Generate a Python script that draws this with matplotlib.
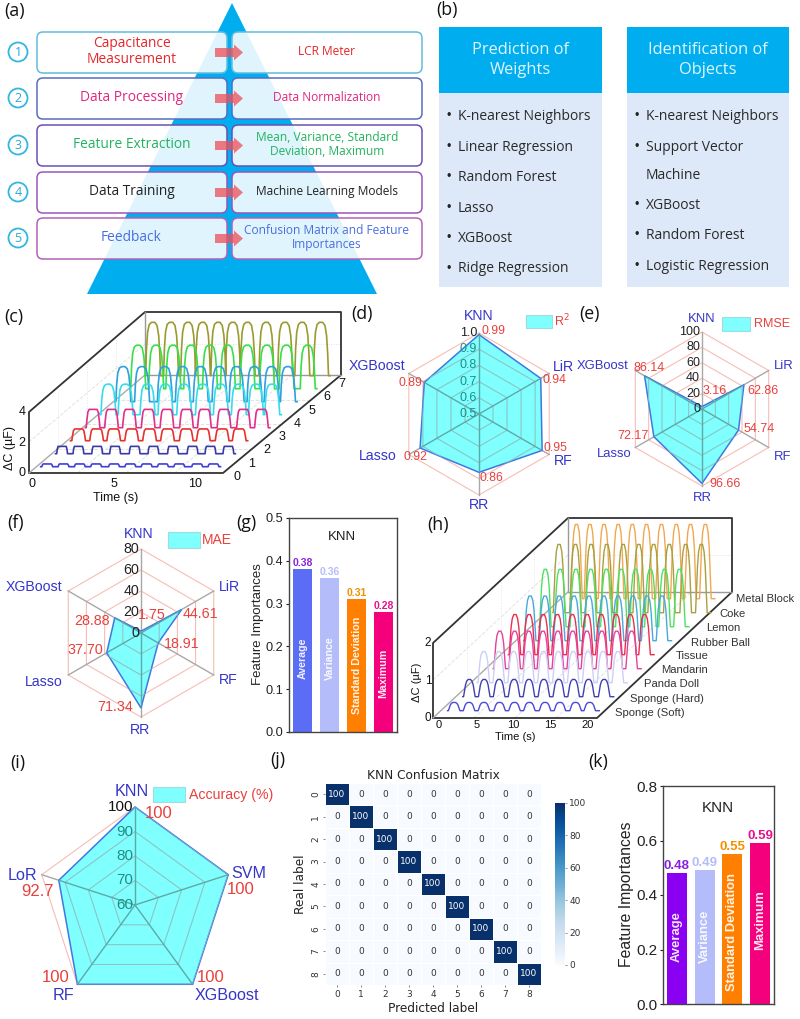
#!/usr/bin/env python3
"""Multi-panel figure: workflow schematic, waterfalls, radar charts, bars, confusion matrix."""

import matplotlib
matplotlib.use("Agg")
import matplotlib.pyplot as plt
import numpy as np
from matplotlib.patches import FancyArrow, FancyBboxPatch, Polygon, Circle, Rectangle

plt.rcParams["font.family"] = ["Liberation Sans", "DejaVu Sans"]

W, H = 800, 1019

# (a) workflow
STEP_LEFT = ["Capacitance\nMeasurement", "Data Processing", "Feature Extraction", "Data Training", "Feedback"]
STEP_RIGHT = ["LCR Meter", "Data Normalization", "Mean, Variance, Standard\nDeviation, Maximum",
              "Machine Learning Models", "Confusion Matrix and Feature\nImportances"]
STEP_TEXT_COLORS = ["#e5262b", "#e0267f", "#22b35e", "#222222", "#4a6ee0"]
STEP_EDGE_COLORS = ["#62bcdc", "#5a6cc0", "#6a4fb4", "#9a55b8", "#b462b4"]

# (b) model lists
WEIGHT_MODELS = ["K-nearest Neighbors", "Linear Regression", "Random Forest", "Lasso", "XGBoost", "Ridge Regression"]
OBJECT_MODELS = ["K-nearest Neighbors", "Support Vector", "Machine", "XGBoost", "Random Forest", "Logistic Regression"]

# (c) waterfall: press centres (s), peak height (uF), colour per depth
C_PEAKS = [
    [0.4, 1.4, 2.4, 3.4, 4.5, 5.5, 6.5, 7.5, 8.5, 9.6, 10.6],
    [0.4, 1.4, 2.55, 3.65, 4.85, 6.0, 7.2, 8.4, 9.5, 10.6],
    [0.5, 1.6, 2.65, 3.75, 4.85, 5.95, 7.1, 8.15, 9.3, 10.35],
    [0.47, 1.6, 2.7, 3.85, 5.0, 6.2, 7.3, 8.5, 9.7, 10.8],
    [0.5, 1.55, 2.9, 4.0, 5.15, 6.3, 7.4, 8.5, 9.55, 10.55],
    [0.5, 1.65, 3.05, 4.15, 5.25, 6.4, 7.45, 8.55, 9.6, 10.6],
    [0.5, 1.6, 2.65, 3.75, 4.9, 6.0, 7.2, 8.4, 9.6, 10.9],
    [0.5, 1.6, 2.65, 3.55, 4.5, 5.4, 6.3, 7.45, 8.6, 9.65, 10.8],
]
C_HEIGHTS = [0.18, 0.48, 0.77, 1.2, 2.0, 2.3, 2.85, 3.5]
C_COLORS = ["#3f3fd8", "#3a3aa8", "#e8302c", "#e0308c", "#35dcec", "#2f9fe0", "#38e048", "#9a9a30"]
C_DEPTH_TICKS = [0, 1, 2, 3, 4, 5, 6, 7]
C_TIME_TICKS = [0, 5, 10]
C_DC_TICKS = [0, 2, 4]

# (h) waterfall
H_PEAKS = [
    [1.0, 3.0, 5.0, 7.1, 9.1, 11.1, 13.2, 15.2, 17.3, 19.2],
    [1.0, 3.0, 5.0, 7.0, 9.0, 11.0, 13.0, 15.0, 17.0, 19.1],
    [0.9, 2.9, 4.9, 6.9, 8.9, 10.9, 12.9, 14.9, 16.9, 18.9],
    [1.0, 3.0, 4.9, 6.8, 8.8, 10.8, 12.7, 14.7, 16.7, 18.7],
    [1.0, 2.9, 4.8, 6.7, 8.7, 10.7, 12.6, 14.6, 16.5, 18.4],
    [1.0, 3.0, 4.9, 6.9, 8.9, 10.9, 12.8, 14.8, 16.7, 18.7],
    [1.0, 3.0, 5.1, 7.1, 9.2, 11.2, 13.1, 15.1, 17.0, 19.0],
    [0.8, 3.0, 5.1, 7.2, 9.4, 11.5, 13.5, 15.6, 17.8, 19.9],
    [1.1, 2.9, 4.8, 6.7, 8.6, 10.5, 12.5, 14.5, 16.4, 18.4],
]
H_HEIGHTS = [0.22, 0.46, 0.83, 1.0, 1.07, 1.19, 1.53, 1.82, 1.98]
H_COLORS = ["#4a4ad8", "#4040b0", "#ccd0f4", "#e8409c", "#e8304c", "#48a8e0", "#50e060", "#a8a040", "#f0a850"]
H_OBJECTS = ["Sponge (Soft)", "Sponge (Hard)", "Panda Doll", "Mandarin", "Tissue",
             "Rubber Ball", "Lemon", "Coke", "Metal Block"]
H_TIME_TICKS = [0, 5, 10, 15, 20]
H_DC_TICKS = [0, 1, 2]

# (d)(e)(f) regression radars
REG_MODELS = ["KNN", "LiR", "RF", "RR", "Lasso", "XGBoost"]
R2_VALUES = [0.99, 0.94, 0.95, 0.86, 0.92, 0.89]
RMSE_VALUES = [3.16, 62.86, 54.74, 96.66, 72.17, 86.14]
MAE_VALUES = [1.75, 44.61, 18.91, 71.34, 37.70, 28.88]
R2_TICKS = [0.5, 0.6, 0.7, 0.8, 0.9, 1.0]
RMSE_TICKS = [0, 20, 40, 60, 80, 100]
MAE_TICKS = [0, 20, 40, 60, 80]

# (i) classification radar
CLF_MODELS = ["KNN", "SVM", "XGBoost", "RF", "LoR"]
ACC_VALUES = [100, 100, 100, 100, 92.7]
ACC_TICKS = [60, 70, 80, 90, 100]

# (g)(k) feature importances
FEATURES = ["Average", "Variance", "Standard Deviation", "Maximum"]
G_IMPORTANCE = [0.38, 0.36, 0.31, 0.28]
K_IMPORTANCE = [0.48, 0.49, 0.55, 0.59]
G_COLORS = ["#5b6cf5", "#b4bdfa", "#ff8000", "#f5007c"]
K_COLORS = ["#8a00f0", "#b4bdfa", "#ff8000", "#f5007c"]
LABEL_COLORS = ["#8a20e0", "#b4bdfa", "#f59000", "#e8108c"]

# (j) confusion matrix
CLASS_IDS = [0, 1, 2, 3, 4, 5, 6, 7, 8]
CONFUSION = [
    [100, 0, 0, 0, 0, 0, 0, 0, 0],
    [0, 100, 0, 0, 0, 0, 0, 0, 0],
    [0, 0, 100, 0, 0, 0, 0, 0, 0],
    [0, 0, 0, 100, 0, 0, 0, 0, 0],
    [0, 0, 0, 0, 100, 0, 0, 0, 0],
    [0, 0, 0, 0, 0, 100, 0, 0, 0],
    [0, 0, 0, 0, 0, 0, 100, 0, 0],
    [0, 0, 0, 0, 0, 0, 0, 100, 0],
    [0, 0, 0, 0, 0, 0, 0, 0, 100],
]

# one press, as offsets from its centre
PULSE_SQUARE_T = [-0.33, -0.3, -0.25, 0.25, 0.3, 0.33]
PULSE_SQUARE_Y = [0, 0.6, 1, 1, 0.6, 0]
PULSE_FLAT_T = [-0.42, -0.38, -0.32, -0.24, 0.24, 0.32, 0.38, 0.42]
PULSE_FLAT_Y = [0, 0.4, 0.85, 1, 1, 0.85, 0.4, 0]
PULSE_ROUND_T = [-0.46, -0.41, -0.34, -0.24, -0.1, 0.1, 0.24, 0.34, 0.41, 0.46]
PULSE_ROUND_Y = [0, 0.5, 0.82, 0.96, 1, 1, 0.94, 0.75, 0.4, 0]
PULSE_H_T = [-0.78, -0.66, -0.52, -0.36, -0.16, 0.16, 0.36, 0.52, 0.66, 0.78]
PULSE_H_Y = [0, 0.3, 0.68, 0.9, 1, 1, 0.9, 0.68, 0.3, 0]

BLUE = "#3535c8"
RED = "#e8403c"
TEAL = "#1f8f86"
CYAN = "#80ffff"
SANS2 = ["Open Sans", "DejaVu Sans"]

fig = plt.figure(figsize=(W / 100, H / 100), dpi=100, facecolor="white")
ov = fig.add_axes([0, 0, 1, 1], zorder=1)
ov.set_xlim(0, W)
ov.set_ylim(H, 0)
ov.axis("off")


def add_axes_px(x0, y0, x1, y1, **kw):
    return fig.add_axes([x0 / W, 1 - y1 / H, (x1 - x0) / W, (y1 - y0) / H], **kw)


def label(x, y, s, size=10, color="#111111", ha="center", va="center", **kw):
    ov.text(x, y, s, fontsize=size, color=color, ha=ha, va=va, zorder=30, **kw)


# ---------- panel letters
for s, x, y in [("(a)", 15, 11), ("(b)", 447, 10), ("(c)", 14, 317), ("(d)", 362, 314), ("(e)", 589, 314),
                ("(f)", 16, 523), ("(g)", 246, 523), ("(h)", 438, 525), ("(i)", 18, 763), ("(j)", 278, 760),
                ("(k)", 598, 762)]:
    label(x, y, s, size=12.8, family=SANS2)

# ---------- (a)
ov.add_patch(Polygon([(232, 3), (87, 294), (377, 294)], facecolor="#00aeef", edgecolor="none", zorder=1))
row_tops = [32, 78, 125, 172, 218]
for i, top in enumerate(row_tops):
    cy = top + 20.5
    for x0, x1, txt, fs in [(37, 227, STEP_LEFT[i], 9.9), (232, 422, STEP_RIGHT[i], 8.6)]:
        ov.add_patch(FancyBboxPatch((x0 + 3, top + 3), x1 - x0 - 6, 35, boxstyle="round,pad=3,rounding_size=6",
                                    facecolor="#ffffff", alpha=0.88, edgecolor="none", zorder=2))
        ov.add_patch(FancyBboxPatch((x0 + 3, top + 3), x1 - x0 - 6, 35, boxstyle="round,pad=3,rounding_size=6",
                                    facecolor="none", edgecolor=STEP_EDGE_COLORS[i], linewidth=1.1, zorder=3))
        label((x0 + x1) / 2 + (0 if x0 > 100 else -0.5), cy - 1, txt, size=fs, color=STEP_TEXT_COLORS[i],
              family=SANS2, linespacing=1.05)
    ov.add_patch(FancyArrow(215, cy, 28, 0, width=9, head_width=16, head_length=9, length_includes_head=True,
                            facecolor="#ee4f58", alpha=0.75, edgecolor="none", zorder=4))
    ov.add_patch(Circle((18, cy - 0.5), 9.5, facecolor="white", edgecolor="#33b6e0", linewidth=1.3, zorder=3))
    label(18, cy - 0.5, str(i + 1), size=9, color="#2aa8d8", family=SANS2)

# ---------- (b)
for x0, x1, title, items, ys, bullets in [
    (439, 602, ["Prediction of", "Weights"], WEIGHT_MODELS, [116, 147, 177, 208, 238, 269], [0, 1, 2, 3, 4, 5]),
    (627, 789, ["Identification of", "Objects"], OBJECT_MODELS, [116, 147, 175, 205, 235, 266], [0, 1, 3, 4, 5]),
]:
    ov.add_patch(Rectangle((x0, 93), x1 - x0, 194, facecolor="#dde9f8", edgecolor="none", zorder=1))
    ov.add_patch(Rectangle((x0, 27), x1 - x0, 66, facecolor="#00aeef", edgecolor="none", zorder=2))
    label((x0 + x1) / 2, 50, title[0], size=11.8, color="#dff6ff", family=SANS2)
    label((x0 + x1) / 2, 70, title[1], size=11.8, color="#dff6ff", family=SANS2)
    for j, (it, y) in enumerate(zip(items, ys)):
        if j in bullets:
            label(x0 + 10, y, "•", size=9, color="#222222")
        label(x0 + 19, y, it, size=10, ha="left", color="#2a2a2a", family=SANS2)


# ---------- waterfalls
def oblique(t, depth, dc, x0, y0, sx, dx, dy, sz):
    return (x0 + np.asarray(t) * sx + np.asarray(depth) * dx,
            y0 - np.asarray(depth) * dy - np.asarray(dc) * sz)


def press_trace(peaks, height, pulse_t, pulse_y, tail=0.0):
    ts, ys = [max(0.0, peaks[0] + pulse_t[0] - 0.1)], [0.0]
    for p in peaks:
        ts.extend(p + np.asarray(pulse_t))
        ys.extend(height * np.asarray(pulse_y))
    if tail:
        ts.append(ts[-1] + tail)
        ys.append(0.0)
    return np.array(ts), np.array(ys)


EDGE = "#333333"
# (c) frame
for xs, ys, c, lw in [([29, 29, 145, 341, 341], [473, 412, 312, 312, 375], EDGE, 1.3),
                      ([29, 223, 341], [473, 473, 375], EDGE, 1.3),
                      ([145, 145], [312, 375], "#999999", 1.0),
                      ([145, 341], [375, 375], "#999999", 1.0),
                      ([29, 145], [473, 375], "#aaaaaa", 1.0)]:
    ov.plot(xs, ys, color=c, lw=lw, zorder=3, solid_capstyle="projecting")
for f in [0.25, 0.5, 0.75]:
    ov.plot([29 + 194 * f, 145 + 196 * f], [473, 375], color="#e2e2e2", lw=0.7, ls="--", zorder=2)
    ov.plot([29 + 116 * f, 223 + 118 * f], [473 - 98 * f, 473 - 98 * f], color="#e2e2e2", lw=0.7, ls="--", zorder=2)
    ov.plot([29 + 116 * f, 29 + 116 * f], [473 - 98 * f, 412 - 100 * f], color="#e6e6e6", lw=0.7, ls=":", zorder=2)
ov.plot([29, 145], [442, 344], color="#e2e2e2", lw=0.7, ls="--", zorder=2)
ov.plot([145, 341], [344, 344], color="#e2e2e2", lw=0.7, ls=":", zorder=2)
for d in reversed(C_DEPTH_TICKS):
    pulse = (PULSE_SQUARE_T, PULSE_SQUARE_Y) if d < 2 else (PULSE_FLAT_T, PULSE_FLAT_Y) if d < 4 else (PULSE_ROUND_T, PULSE_ROUND_Y)
    t, y = press_trace(C_PEAKS[d], C_HEIGHTS[d], pulse[0], pulse[1], tail=0.1)
    px, py = oblique(t, d, y, 40.7, 466.7, 16.3, 14.9, 13.0, 15.25)
    ov.plot(px, py, color=C_COLORS[d], lw=1.2, zorder=10 + (7 - d) * 0.1, solid_joinstyle="round")
for v in C_DC_TICKS:
    label(22, 473 - v * 15.25, str(v), size=9)
for v in C_TIME_TICKS:
    label(32 + v * 16.3, 484, str(v), size=9)
for v in C_DEPTH_TICKS:
    label(237 + v * 15, 477 - v * 13.3, str(v), size=9)
label(116, 498, "Time (s)", size=9)
label(10, 448, "ΔC (µF)", size=9, rotation=90)

# (h) frame
for xs, ys, c, lw in [([433, 433, 568, 732, 732, 597, 433], [718, 643, 518, 518, 592, 718, 718], EDGE, 1.3),
                      ([568, 568], [518, 592], "#999999", 1.0),
                      ([568, 732], [592, 592], "#999999", 1.0),
                      ([433, 568], [718, 592], "#aaaaaa", 1.0)]:
    ov.plot(xs, ys, color=c, lw=lw, zorder=3)
for f in [0.25, 0.5, 0.75]:
    ov.plot([433 + 164 * f, 568 + 164 * f], [718, 592], color="#e2e2e2", lw=0.7, ls="--", zorder=2)
    ov.plot([433 + 135 * f, 433 + 135 * f], [718 - 126 * f, 643 - 125 * f], color="#e6e6e6", lw=0.7, ls=":", zorder=2)
ov.plot([568, 732], [555, 555], color="#e2e2e2", lw=0.7, ls=":", zorder=2)
ov.plot([433, 568], [680, 555], color="#e2e2e2", lw=0.7, ls="--", zorder=2)
for d in reversed(range(len(H_OBJECTS))):
    t, y = press_trace(H_PEAKS[d], H_HEIGHTS[d], PULSE_H_T, PULSE_H_Y, tail=0.5)
    px, py = oblique(t, d, y, 446.7, 710.7, 7.45, 15.2, 14.0, 37.5)
    ov.plot(px, py, color=H_COLORS[d], lw=1.0, zorder=10 + (8 - d) * 0.1)
for v in H_DC_TICKS:
    label(428, 718 - v * 37.5, str(v), size=8.5)
for v in H_TIME_TICKS:
    label(439 + v * 7.45, 725, str(v), size=8)
label(515, 737, "Time (s)", size=8)
label(417, 682, "ΔC (µF)", size=8, rotation=90)
for name, x, y in zip(H_OBJECTS, [650, 667, 672, 684, 692, 720, 723, 732, 765],
                      [713, 699, 684, 670, 656, 643, 628, 614, 599]):
    label(x, y, name, size=8.1, color="#333333")


# ---------- radars
def radar(cx, cy, R, values, vmin, vmax, ticks, tick_x, lab_xy, val_xy, models, box, box_text, box_text_x,
          tick_size, lab_size, val_size, box_size, val_fmt="{:.2f}", tick_fmt="{}", tick_colors=None):
    n = len(values)
    ang = np.pi / 2 - np.arange(n) * 2 * np.pi / n
    ux, uy = np.cos(ang), -np.sin(ang)
    frac = (np.asarray(values, float) - vmin) / (vmax - vmin)
    for tk in ticks[1:]:
        f = (tk - vmin) / (vmax - vmin)
        ov.add_patch(Polygon(np.c_[cx + R * f * ux, cy + R * f * uy], closed=True, fill=False,
                             edgecolor="#f6bdb6", lw=0.8, zorder=5))
    for i in range(n):
        ov.plot([cx, cx + R * ux[i]], [cy, cy + R * uy[i]], color="#a8a8a8", lw=1.0, zorder=5)
    poly = Polygon(np.c_[cx + R * frac * ux, cy + R * frac * uy], closed=True, facecolor=CYAN,
                   edgecolor="#3f78e0", lw=1.1, zorder=6)
    ov.add_patch(poly)
    for tk in ticks[1:]:
        f = (tk - vmin) / (vmax - vmin)
        ring = Polygon(np.c_[cx + R * f * ux, cy + R * f * uy], closed=True, fill=False,
                       edgecolor="#8cc4c4", lw=0.8, zorder=7)
        ov.add_patch(ring)
        ring.set_clip_path(poly)
    for i in range(n):
        sp, = ov.plot([cx, cx + R * ux[i]], [cy, cy + R * uy[i]], color="#5fa8a8", lw=1.0, zorder=7)
        sp.set_clip_path(poly)
    for j, tk in enumerate(ticks):
        f = (tk - vmin) / (vmax - vmin)
        col = tick_colors[j] if tick_colors else "#222222"
        label(tick_x, cy - R * f, tick_fmt.format(tk), size=tick_size, color=col, ha="right")
    for m, (x, y) in zip(models, lab_xy):
        label(x, y, m, size=lab_size, color=BLUE)
    for v, (x, y) in zip(values, val_xy):
        label(x, y, val_fmt.format(v), size=val_size, color=RED)
    ov.add_patch(Rectangle((box[0], box[1]), box[2] - box[0], box[3] - box[1], facecolor=CYAN,
                           edgecolor="#a0dcdc", lw=0.8, zorder=6))
    label(box_text_x, (box[1] + box[3]) / 2, box_text, size=box_size, color=RED)


radar(479, 414, 81, R2_VALUES, 0.5, 1.0, R2_TICKS, 477,
      [(479, 316), (563, 367), (563, 461), (479, 505), (378, 456), (377, 366)],
      [(494, 331), (554, 380), (555, 448), (491, 478), (415, 457), (410, 383)], REG_MODELS,
      (526, 315, 552, 328), "R$^2$", 562, tick_size=9, lab_size=10.2, val_size=8.8, box_size=9,
      tick_fmt="{:.1f}", tick_colors=[TEAL] * 5 + ["#222222"])
radar(702, 409, 77, RMSE_VALUES, 0, 100, RMSE_TICKS, 700,
      [(702, 319), (784, 366), (783, 457), (702, 498), (614, 454), (603, 366)],
      [(715, 391), (763, 391), (759, 429), (725, 484), (633, 436), (649, 368)], REG_MODELS,
      (722, 317, 750, 331), "RMSE", 772, tick_size=9, lab_size=9.4, val_size=9, box_size=9)
radar(141, 633, 84, MAE_VALUES, 0, 80, MAE_TICKS, 139,
      [(139, 534), (229, 587), (228, 680), (140, 730), (44, 682), (34, 587)],
      [(152, 615), (200, 614), (182, 644), (115, 707), (85, 650), (92, 621)], REG_MODELS,
      (168, 532, 200, 548), "MAE", 217, tick_size=10.3, lab_size=10.2, val_size=10.3, box_size=10)
radar(135, 905, 98, ACC_VALUES, 60, 100, ACC_TICKS, 133,
      [(132, 791), (249, 874), (227, 995), (63, 996), (22, 875)],
      [(159, 813), (241, 889), (211, 978), (56, 977), (38, 891)], CLF_MODELS,
      (153, 787, 185, 802), "Accuracy (%)", 231, tick_size=11, lab_size=11.6, val_size=12, box_size=10.2,
      val_fmt="{:g}", tick_colors=[TEAL] * 4 + ["#111111"])


# ---------- bars
def importance_bars(box, values, colors, ymax, yticks, knn_y, inner_y, inner_size, val_size, knn_size, tick_size,
                    ylab_x, ylab_y, ylab_size):
    ax = add_axes_px(*box, zorder=2)
    x = np.arange(len(values))
    ax.bar(x, values, width=0.72, color=colors)
    ax.set_xlim(-0.5, 3.5)
    ax.set_ylim(0, ymax)
    ax.set_xticks([])
    ax.set_yticks(yticks)
    ax.set_yticklabels([f"{v:.1f}" for v in yticks], fontsize=tick_size)
    ax.tick_params(axis="y", direction="out", length=2.5, width=0.8, pad=1.5, colors="#222222")
    for s in ax.spines.values():
        s.set_linewidth(1.0)
        s.set_color("#444444")
    for xi, v, name, c, iy in zip(x, values, FEATURES, LABEL_COLORS, inner_y):
        ax.text(xi, v + ymax * 0.006, f"{v:.2f}", ha="center", va="bottom", fontsize=val_size, color=c, weight="bold")
        ax.text(xi, iy, name, rotation=90, ha="center", va="center", fontsize=inner_size, color="white",
                weight="bold", alpha=0.9)
    ax.text(0.49, knn_y, "KNN", transform=ax.transAxes, ha="center", va="center", fontsize=knn_size, color="#222222")
    fig.text(ylab_x / W, 1 - ylab_y / H, "Feature Importances", rotation=90, ha="center",
             va="center", fontsize=ylab_size, color="#222222", zorder=5)
    return ax


importance_bars((289, 518, 397, 732), G_IMPORTANCE, G_COLORS, 0.5, [0.0, 0.1, 0.2, 0.3, 0.4, 0.5],
                0.91, [0.173, 0.173, 0.155, 0.138], 7.7, 7.5, 9.5, 9.2, 258, 624, 9.5)
importance_bars((663, 786, 774, 1004), K_IMPORTANCE, K_COLORS, 0.8, [0.0, 0.2, 0.4, 0.6, 0.8],
                0.90, [0.246, 0.25, 0.264, 0.308], 9.4, 9.5, 11, 11, 627, 894, 11.3)

# ---------- (j) confusion matrix
dv = ["DejaVu Sans"]
axj = add_axes_px(325, 783, 541, 985, zorder=2)
mesh = axj.pcolormesh(np.arange(10), np.arange(10), np.array(CONFUSION), cmap="Blues", vmin=0, vmax=100,
                      edgecolors="white", linewidth=0.5)
axj.set_ylim(9, 0)
axj.set_xlim(0, 9)
centres = np.array(CLASS_IDS) + 0.5
axj.set_xticks(centres)
axj.set_yticks(centres)
axj.set_xticklabels(CLASS_IDS, fontsize=6.5, family=dv, color="#333333")
axj.set_yticklabels(CLASS_IDS, fontsize=6.5, family=dv, color="#333333", rotation=90, va="center")
axj.tick_params(length=1.5, width=0.5, pad=2, color="#555555")
for s in axj.spines.values():
    s.set_visible(False)
axj.set_title("KNN Confusion Matrix", fontsize=8.7, family=dv, pad=3, color="#222222")
axj.set_xlabel("Predicted label", fontsize=8.7, family=dv, labelpad=2.5, color="#222222")
axj.set_ylabel("Real label", fontsize=8.7, family=dv, labelpad=3, color="#222222")
for r, row in enumerate(CONFUSION):
    for c, v in enumerate(row):
        axj.text(c + 0.5, r + 0.5, str(v), ha="center", va="center", fontsize=6.5, family=dv,
                 color="white" if v > 50 else "#333333")
cax = add_axes_px(555, 803, 565, 965, zorder=2)
cb = fig.colorbar(mesh, cax=cax)
cb.set_ticks([0, 20, 40, 60, 80, 100])
cb.ax.tick_params(labelsize=6.5, length=1.5, width=0.5, pad=1.5, labelcolor="#333333", color="#666666")
for t in cb.ax.get_yticklabels():
    t.set_family(dv)
cb.outline.set_visible(False)

fig.savefig("out.png", dpi=100)
